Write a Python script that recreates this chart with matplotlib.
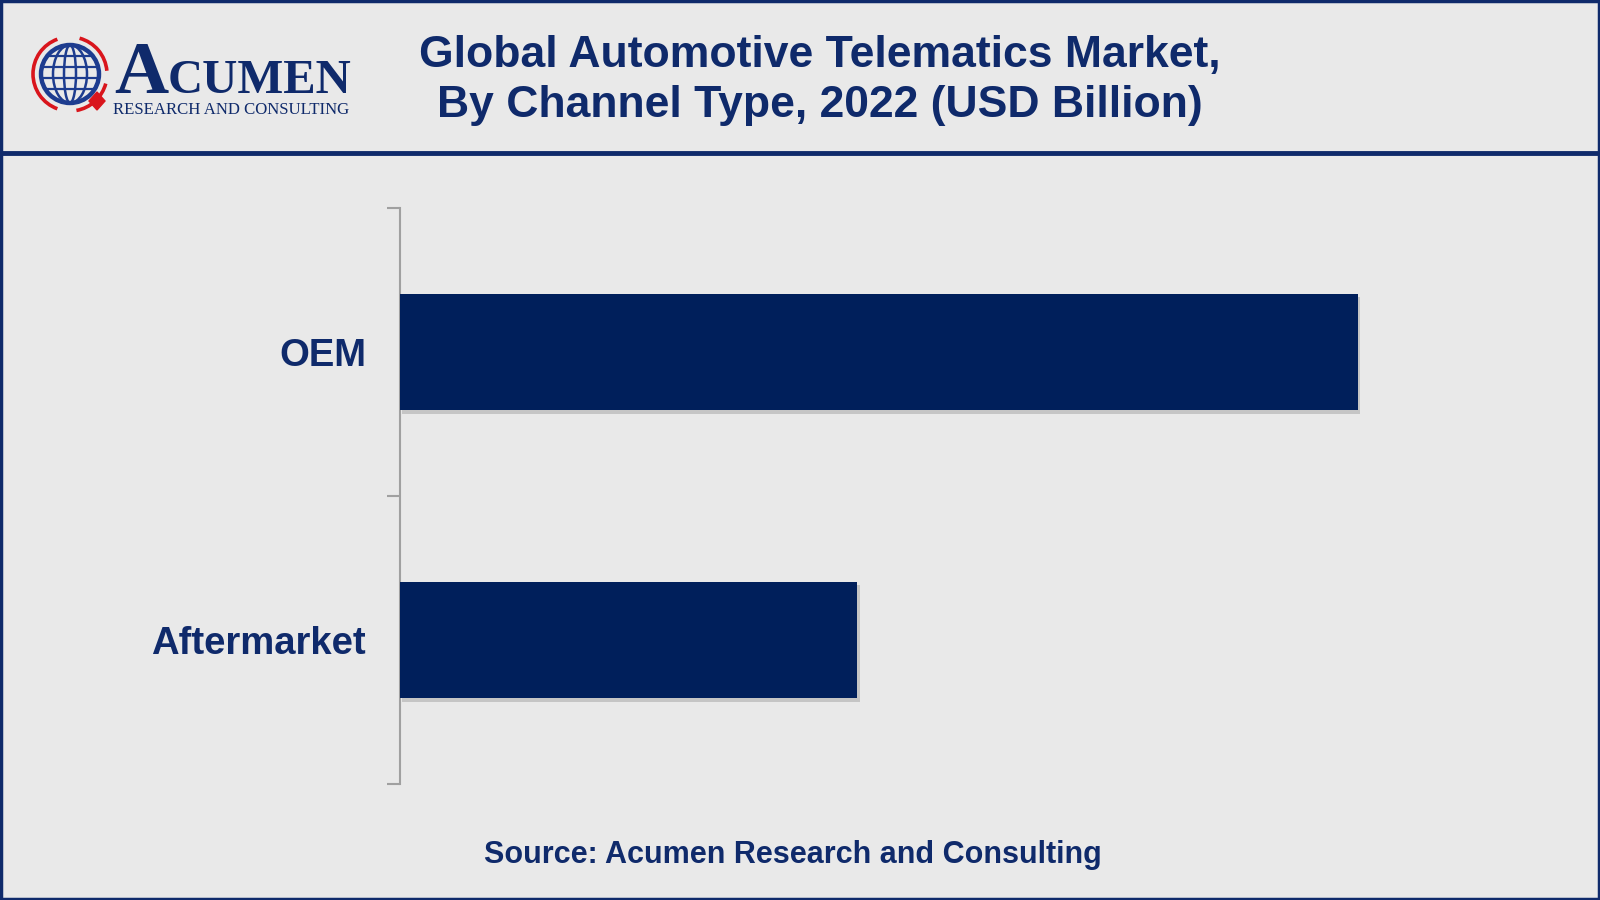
import matplotlib
matplotlib.use("Agg")
import matplotlib.pyplot as plt
from matplotlib.patches import Circle, Ellipse, Arc, Polygon, Rectangle
import matplotlib.patheffects as pe
from matplotlib.ticker import FixedLocator, NullFormatter, FixedFormatter

categories = ["Aftermarket", "OEM"]
values = [23.4, 49.0]
title_lines = ["Global Automotive Telematics Market,", "By Channel Type, 2022 (USD Billion)"]
source_text = "Source: Acumen Research and Consulting"

NAVY = "#0f2a6b"
BAR = "#001f5b"
BG = "#e9e9e9"
RED = "#d9151c"

fig = plt.figure(figsize=(16, 9), dpi=100, facecolor=BG)

# overlay axes in pixel coordinates
ov = fig.add_axes([0, 0, 1, 1], zorder=0)
ov.set_xlim(0, 1600)
ov.set_ylim(900, 0)
ov.axis("off")
ov.set_facecolor(BG)

# border and header line
ov.add_patch(Rectangle((1.2, 1.2), 1597.6, 897.6, fill=False, edgecolor=NAVY, lw=2.5))
ov.plot([0, 1600], [153, 153], color=NAVY, lw=3.5, solid_capstyle="butt")

# logo: globe
cx, cy, r = 70, 74, 29
ov.add_patch(Circle((cx, cy), r, fill=False, edgecolor="#1d3c8f", lw=3.2))
for w in [58, 34, 12]:
    ov.add_patch(Ellipse((cx, cy), w, 2 * r, fill=False, edgecolor="#1d3c8f", lw=1.8))
for dy in [-18, -7, 4, 15]:
    half = (r ** 2 - dy ** 2) ** 0.5
    ov.plot([cx - half, cx + half], [cy + dy, cy + dy], color="#1d3c8f", lw=1.6)
# red rotating arcs
ov.add_patch(Arc((cx, cy), 74, 74, theta1=285, theta2=355, color=RED, lw=2.6))
ov.add_patch(Arc((cx, cy), 74, 74, theta1=110, theta2=250, color=RED, lw=2.6))
ov.add_patch(Arc((cx, cy), 74, 74, theta1=15, theta2=80, color=RED, lw=2.6))
ov.add_patch(Polygon([[97, 92], [105, 101], [97, 110], [89, 101]], closed=True, color=RED))

ov.text(114, 93, "A", fontsize=54, family="Liberation Serif", weight="bold", color=NAVY,
        ha="left", va="baseline")
ov.text(168, 93, "CUMEN", fontsize=35, family="Liberation Serif", weight="bold", color=NAVY,
        ha="left", va="baseline")
ov.text(113, 114, "RESEARCH AND CONSULTING", fontsize=12.1, family="Liberation Serif",
        color=NAVY, ha="left", va="baseline")

# title
ov.text(820, 55, title_lines[0], fontsize=32, family="Liberation Sans", weight="bold",
        color=NAVY, ha="center", va="center")
ov.text(820, 106, title_lines[1], fontsize=32, family="Liberation Sans", weight="bold",
        color=NAVY, ha="center", va="center")

# source
ov.text(793, 855, source_text, fontsize=22, family="Liberation Sans", weight="bold",
        color=NAVY, ha="center", va="center")

# bar chart
ax = fig.add_axes([400 / 1600, 1 - 784 / 900, 1100 / 1600, 576 / 900], zorder=2)
ax.set_facecolor("none")
ypos = list(range(len(categories)))
bars = ax.barh(ypos, values, height=0.405, color=BAR, zorder=3)
for b in bars:
    b.set_path_effects([pe.SimplePatchShadow(offset=(1.5, -2.5), shadow_rgbFace="#9a9a9a", alpha=0.45),
                        pe.Normal()])
ax.set_xlim(0, values[1] * 1100 / 958)
ax.set_ylim(-0.5, len(categories) - 0.5)
for s in ["top", "right", "bottom"]:
    ax.spines[s].set_visible(False)
ax.spines["left"].set_color("#a0a0a0")
ax.spines["left"].set_linewidth(1.5)
ax.set_xticks([])
ax.yaxis.set_major_locator(FixedLocator([-0.5, 0.5, 1.5]))
ax.yaxis.set_major_formatter(NullFormatter())
ax.yaxis.set_minor_locator(FixedLocator(ypos))
ax.yaxis.set_minor_formatter(FixedFormatter(categories))
ax.tick_params(axis="y", which="major", length=9.5, width=1.5, color="#a0a0a0", direction="out")
ax.tick_params(axis="y", which="minor", length=0, pad=24.5, labelsize=27.5, labelcolor=NAVY)
for lbl in ax.get_yticklabels(minor=True):
    lbl.set_fontfamily("Liberation Sans")
    lbl.set_fontweight("bold")

fig.savefig("out.png", dpi=100, facecolor=BG)
